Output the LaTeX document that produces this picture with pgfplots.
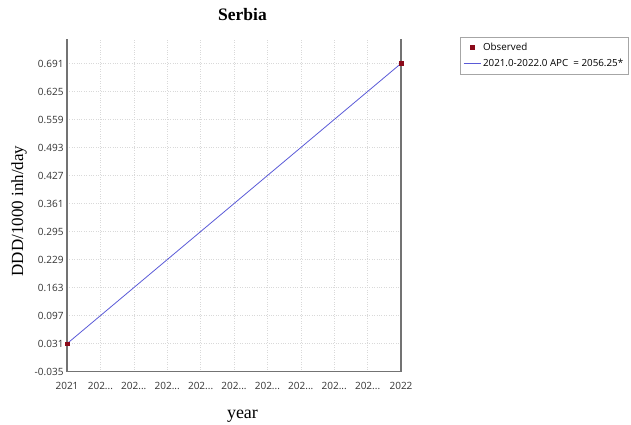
\documentclass[border=0pt]{standalone}
\usepackage{pgfplots}
\pgfplotsset{compat=1.18}
\usepackage{fontspec}
\setmainfont{Liberation Serif}
\newfontfamily\tickfont{Open Sans}

\definecolor{obsred}{RGB}{139,10,26}
\definecolor{apcblue}{RGB}{90,90,215}
\definecolor{spinegray}{RGB}{115,115,115}

\begin{document}
\begin{tikzpicture}
\path[use as bounding box] (-67pt,-53.3pt) rectangle (564pt,371.7pt);
\begin{axis}[
  at={(0pt,0pt)}, anchor=south west,
  scale only axis, width=334pt, height=332.4pt,
  xmin=2021, xmax=2022, ymin=-0.035, ymax=0.748,
  xtick={2021,2021.1,2021.2,2021.3,2021.4,2021.5,2021.6,2021.7,2021.8,2021.9,2022},
  xticklabels={2021,{202{...}},{202{...}},{202{...}},{202{...}},{202{...}},{202{...}},{202{...}},{202{...}},{202{...}},2022},
  ytick={-0.035,0.031,0.097,0.163,0.229,0.295,0.361,0.427,0.493,0.559,0.625,0.691},
  yticklabels={-0.035,0.031,0.097,0.163,0.229,0.295,0.361,0.427,0.493,0.559,0.625,0.691},
  major tick length=0pt,
  grid=major,
  major grid style={gray!30, dotted, line width=0.5pt},
  axis line style={draw=none},
  clip=false,
  ticklabel style={font=\tickfont\fontsize{10}{12}\selectfont, text=black!80},
  xticklabel style={yshift=-7pt},
  title={Serbia},
  title style={at={(rel axis cs:0.5254,1.040)}, anchor=base, font=\bfseries\fontsize{17.5}{20}\selectfont},
  xlabel={year},
  xlabel style={at={(rel axis cs:0.5254,-0.1393)}, anchor=base, font=\fontsize{18}{21}\selectfont},
  ylabel={DDD/1000 inh/day},
  ylabel style={at={(rel axis cs:-0.1317,0.4835)}, anchor=base, font=\fontsize{17}{20}\selectfont},
  legend style={at={(rel axis cs:1.1766,1.0078)}, anchor=north west, draw=gray!70,
    font=\tickfont\fontsize{9.8}{12}\selectfont, cells={anchor=west},
    inner xsep=3pt, inner ysep=4pt, row sep=3pt},
  reverse legend=true,
]
% fitted segment
\addplot[apcblue, line width=0.8pt] coordinates {(2021,0.031) (2022,0.691)};
\addlegendentry{2021.0-2022.0 APC \ = 2056.25*}
% observed values
\addplot[only marks, mark=square*, mark size=1.8pt, color=obsred] coordinates {(2021,0.031) (2022,0.691)};
\addlegendentry{Observed}
% left, bottom and right frame lines
\draw[spinegray, line width=1.4pt] (rel axis cs:0,1) -- (rel axis cs:0,0) -- (rel axis cs:1,0) -- (rel axis cs:1,1);
\end{axis}
\end{tikzpicture}
\end{document}
